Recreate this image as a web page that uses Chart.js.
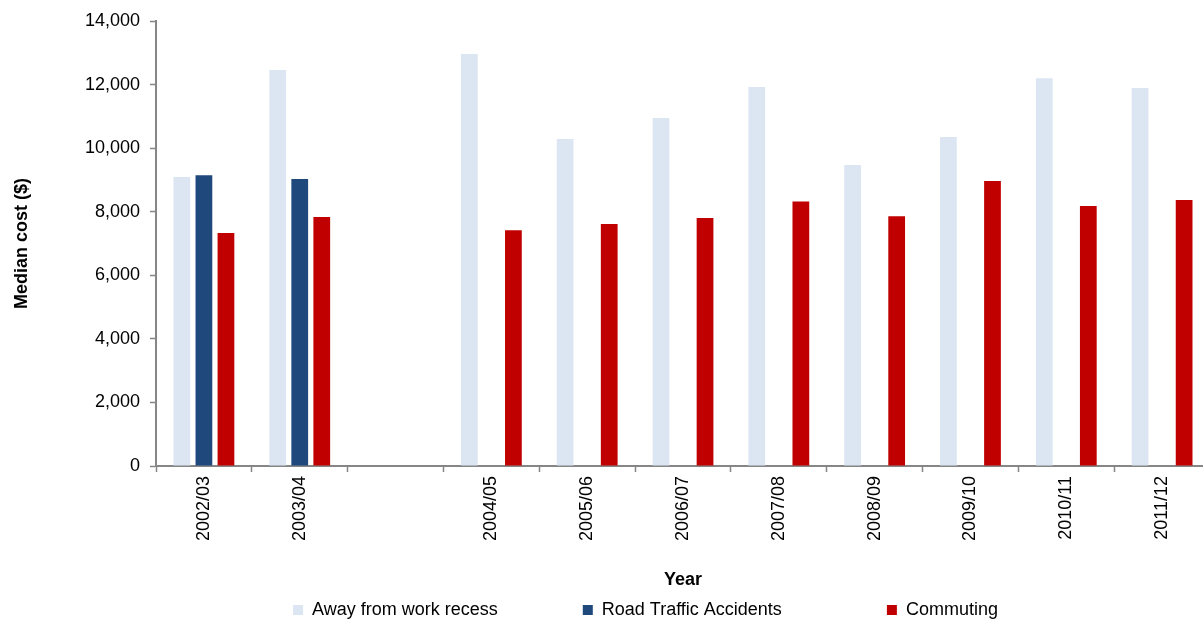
<!DOCTYPE html>
<html>
<head>
<meta charset="utf-8">
<script src="https://cdn.jsdelivr.net/npm/chart.js@4/dist/chart.umd.min.js"></script>
<style>
  body { margin: 0; background: #fff; overflow: hidden; }
  #wrapper { width: 1203px; height: 627px; overflow: hidden; }
</style>
</head>
<body>
<div id="wrapper"><canvas id="chart" width="1210" height="627"></canvas></div>
<script>
// categories (empty one is the gap between 2003/04 and 2004/05)
let years = ["2002/03", "2003/04", "", "2004/05", "2005/06", "2006/07", "2007/08", "2008/09", "2009/10", "2010/11", "2011/12"];

// median cost ($) per series
let awayFromWork = [9090, 12460, null, 12960, 10290, 10950, 11920, 9470, 10350, 12200, 11890];
let roadTraffic = [9150, 9030, null, null, null, null, null, null, null, null, null];
let commuting = [7330, 7830, null, 7420, 7610, 7800, 8320, 7860, 8970, 8180, 8370];

let seriesNames = ["Away from work recess", "Road Traffic Accidents", "Commuting"];
let yTicks = [0, 2000, 4000, 6000, 8000, 10000, 12000, 14000];

// trailing gaps so legend items sit apart like the original
let legendGaps = [15, 19, 15];

const axisColor = "#868686";
const font = "'Liberation Sans', Arial, sans-serif";

const config = {
  type: "bar",
  data: {
    labels: years,
    datasets: [
      { label: seriesNames[0], data: awayFromWork, backgroundColor: "#dce6f2" },
      { label: seriesNames[1], data: roadTraffic, backgroundColor: "#1f497d" },
      { label: seriesNames[2], data: commuting, backgroundColor: "#c00000" },
    ],
  },
  options: {
    responsive: false,
    animation: false,
    devicePixelRatio: 1,
    categoryPercentage: 0.69,
    barPercentage: 0.76,
    borderWidth: 0,
    // canvas is a few px wider than the window: the plot runs off the right edge like the original
    layout: { padding: { top: 21, left: 0, right: 0, bottom: -2 } },
    scales: {
      x: {
        grid: {
          display: true,
          offset: true,
          drawOnChartArea: false,
          tickLength: 6,
          tickColor: axisColor,
          tickWidth: 1.5,
        },
        border: { color: axisColor, width: 2 },
        ticks: {
          color: "#000",
          font: { family: font, size: 18 },
          minRotation: 90,
          maxRotation: 90,
          autoSkip: false,
          padding: 4,
        },
        title: {
          display: true,
          text: "Year",
          color: "#000",
          font: { family: font, size: 18, weight: "bold" },
          padding: { top: 6, bottom: 0 },
        },
        afterFit: (s) => {
          s.height = 125;
          s.paddingLeft = 0;
          s.paddingRight = 0;
        },
      },
      y: {
        min: 0,
        max: 14000,
        afterBuildTicks: (s) => {
          s.ticks = yTicks.map((v) => ({ value: v }));
        },
        grid: {
          display: true,
          drawOnChartArea: false,
          tickLength: 6,
          tickColor: axisColor,
          tickWidth: 1.5,
        },
        border: { color: axisColor, width: 2 },
        ticks: {
          color: "#000",
          font: { family: font, size: 18 },
          padding: 10,
        },
        title: {
          display: true,
          text: "Median cost ($)",
          color: "#000",
          font: { family: font, size: 18, weight: "bold" },
          padding: { top: 11, bottom: 0 },
        },
        afterFit: (s) => {
          s.width = 156;
        },
      },
    },
    plugins: {
      tooltip: { enabled: false },
      legend: {
        position: "bottom",
        fullSize: false,
        labels: {
          color: "#000",
          font: { family: font, size: 18 },
          boxWidth: 10,
          boxHeight: 10,
          padding: 10,
          generateLabels: (chart) => {
            let items = Chart.defaults.plugins.legend.labels.generateLabels(chart);
            items.forEach((item, i) => {
              item.text = item.text + " ".repeat(legendGaps[i]);
              item.lineWidth = 0;
            });
            return items;
          },
        },
      },
    },
  },
};

let chart = new Chart(document.getElementById("chart"), config);
</script>
</body>
</html>
